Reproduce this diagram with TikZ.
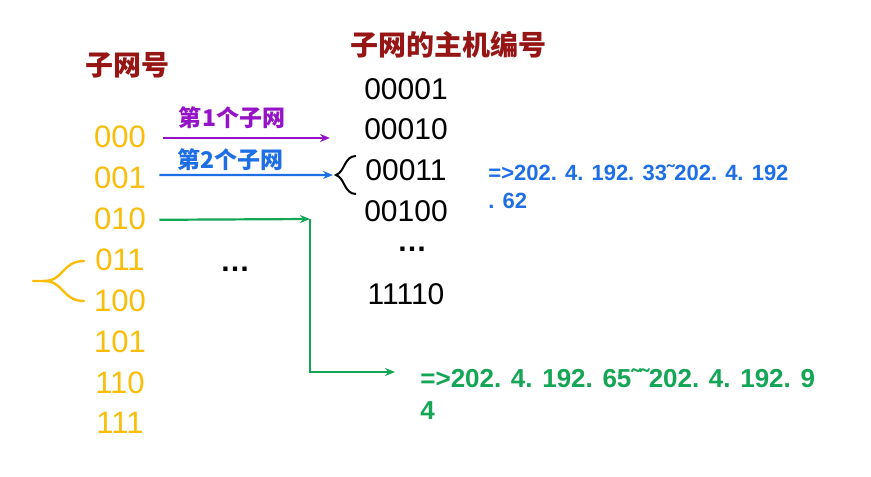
\documentclass[tikz,border=0pt]{standalone}
\usepackage{fontspec}
\setmainfont{Liberation Sans}
\newfontfamily\cjk{Noto Sans CJK SC}
\usetikzlibrary{positioning,arrows.meta,calc}
\definecolor{hdRed}{RGB}{150,22,22}
\definecolor{subYel}{RGB}{250,190,10}
\definecolor{netPur}{RGB}{150,20,200}
\definecolor{netBlu}{RGB}{30,110,230}
\definecolor{netGrn}{RGB}{20,165,85}

\begin{document}
\begin{tikzpicture}[
  x=0.5pt, y=-0.5pt,
  >={Stealth[length=5pt,width=4pt]},
  head/.style={font=\cjk\bfseries\fontsize{14}{16}\selectfont, text=hdRed, inner sep=0pt},
  sub/.style={font=\fontsize{15.5}{17}\selectfont, text=subYel, inner sep=0pt},
  host/.style={font=\fontsize{15}{17}\selectfont, inner sep=0pt},
  more/.style={font=\bfseries\fontsize{15}{17}\selectfont, inner sep=0pt},
  lbl/.style={font=\cjk\bfseries\fontsize{11.5}{13}\selectfont, inner sep=0pt},
  ip/.style={font=\bfseries, align=left, inner sep=0pt, anchor=north west},
  link/.style={->, line width=1.1pt},
]
\useasboundingbox[fill=white] (0,0) rectangle (871,476);

% ---- headings ----
\node[head] (HSUB) at (127,65) {子网号};
\node[head] (HHOST) at (448,45) {子网的主机编号};

% ---- subnet numbers ----
\foreach \b [count=\i from 0] in {000,001,010,011,100,101,110,111}
  \node[sub] (s\i) at (120,{137+40.9*\i}) {\b};

% ---- host numbers ----
\node[host] (h1) at (406,89) {00001};
\node[host] (h2) at (406,129) {00010};
\node[host] (h3) at (406,170) {00011};
\node[host] (h4) at (406,211) {00100};
\node[more] (hdots) at (412,249) {…};
\node[host] (hlast) at (406,294) {11110};
\node[more] (mdots) at (235,269) {…};

% ---- braces ----
\draw[line width=1pt] (356,156) .. controls (344,156) and (345,172) .. (336,175)
  .. controls (345,178) and (344,194) .. (356,194);
\coordinate (btip) at (333,175);
\draw[subYel, line width=1.2pt, line cap=round] (84,261) .. controls (62,261) and (64,281) .. (44,281) -- (33,281);
\draw[subYel, line width=1.2pt, line cap=round] (44,281) .. controls (64,281) and (62,301) .. (84,301);

% ---- first subnet ----
\coordinate (p1) at (330,138);
\draw[link, netPur] ($(s0.east)+(17,1)$) -- (p1);
\node[lbl, text=netPur] (L1) at (232,118) {第1个子网};

% ---- second subnet ----
\draw[link, netBlu] ($(s1.east)+(13,-3)$) -- (btip);
\node[lbl, text=netBlu] (L2) at (230,160) {第2个子网};
\node[ip, text=netBlu, font=\bfseries\fontsize{11}{14}\selectfont] (IP2) at (488,164)
  {=>202. 4. 192. 33˜202. 4. 192\\. 62};

% ---- third subnet ----
\coordinate (g1) at (310,219);
\coordinate (g2) at (310,372);
\coordinate (g3) at (395,372);
\draw[link, netGrn] ($(s2.east)+(13,1)$) -- (g1);
\draw[link, netGrn] (g1) -- (g2) -- (g3);
\node[ip, text=netGrn, font=\bfseries\fontsize{13}{16}\selectfont] (IP3) at (420,368)
  {=>202. 4. 192. 65˜˜202. 4. 192. 9\\4};

\end{tikzpicture}
\end{document}
